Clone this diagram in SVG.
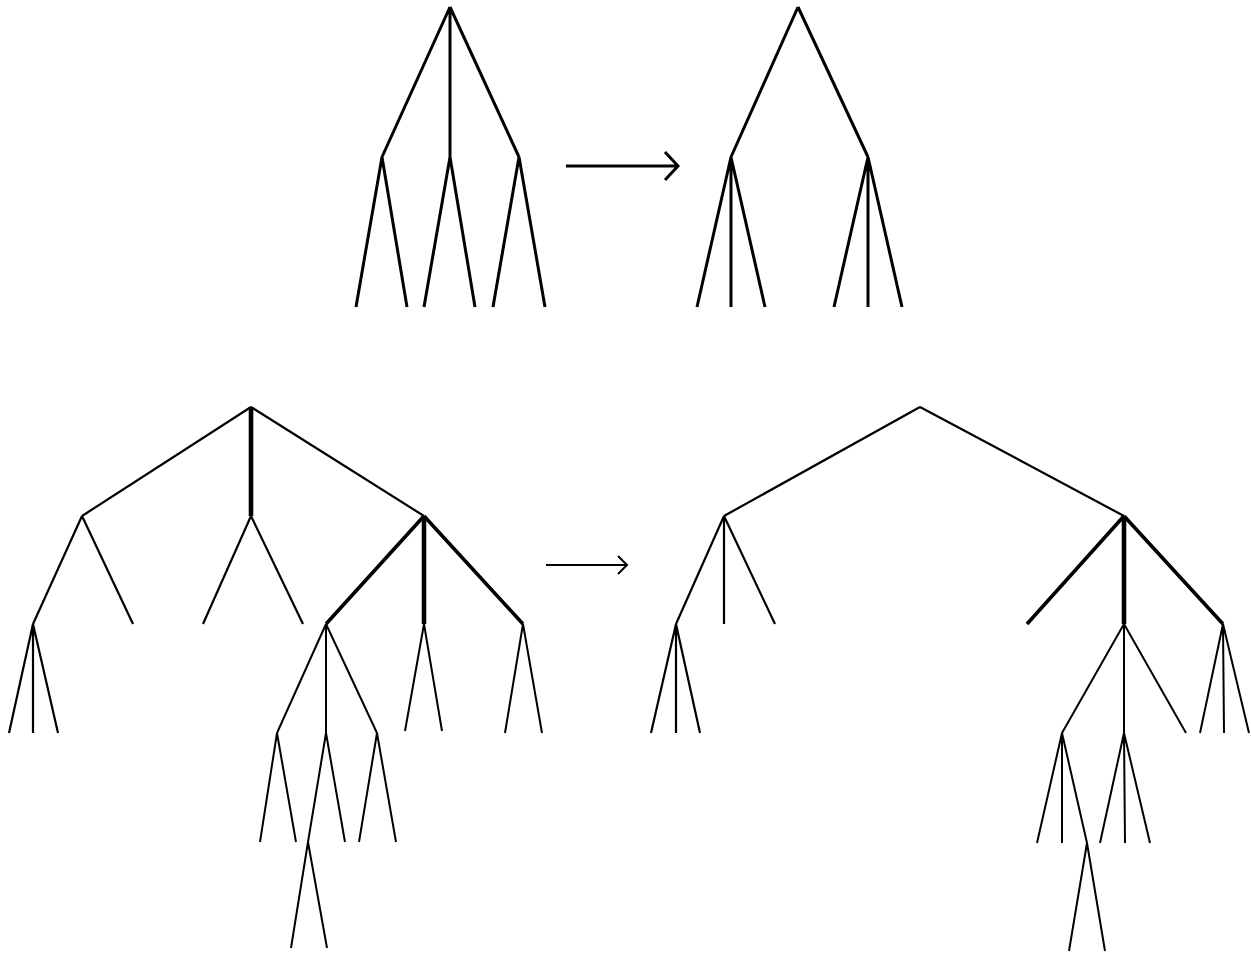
<svg xmlns="http://www.w3.org/2000/svg" width="1251" height="953" viewBox="0 0 1251 953">
<style>
.e{stroke:#000;fill:none;stroke-linecap:butt}
.t{stroke-width:3}
.b{stroke-width:2.2}
.k{stroke-width:3.6}
.kk{stroke-width:4.6}
.n{stroke-width:2}
</style>
<rect width="1251" height="953" fill="#fff"/>
<g id="tree1">
<path class="e t" d="M450,7L382,157M450,7L450,157M450,7L519,157M382,157L356,307M382,157L407,307M450,157L424,307M450,157L475,307M519,157L493,307M519,157L545,307"/>
</g>
<g id="tree2">
<path class="e t" d="M798,7L731,157M798,7L868,157M731,157L697,307M731,157L731,307M731,157L765,307M868,157L834,307M868,157L868,307M868,157L902,307"/>
</g>
<g id="tree3">
<path class="e b" d="M251,407L82,516M251,407L424,516M82,516L33,624M82,516L133,624M251,516L203,624M251,516L303,624M33,624L9,733M33,624L33,733M33,624L58,733"/>
<path class="e kk" d="M251,407L251,516"/>
<path class="e k" d="M424,516L326,624M424,516L523,624"/>
<path class="e kk" d="M424,516L424,624"/>
<path class="e n" d="M326,624L277,733M326,624L326,733M326,624L377,733M277,733L260,842M277,733L296,842M326,733L308,842M326,733L345,842M377,733L359,842M377,733L396,842M308,842L291,948M308,842L327,948M424,624L405,731M424,624L442,731M523,624L505,733M523,624L542,733"/>
</g>
<g id="tree4">
<path class="e b" d="M920,407L724,516M920,407L1124,516M724,516L676,624M724,516L724,624M724,516L775,624M676,624L651,733M676,624L676,733M676,624L700,733"/>
<path class="e k" d="M1124,516L1027,624M1124,516L1223,624"/>
<path class="e kk" d="M1124,516L1124,624"/>
<path class="e n" d="M1124,624L1062,733M1124,624L1124,733M1124,624L1186,733M1062,733L1037,843M1062,733L1062,843M1062,733L1087,843M1124,733L1100,843M1124,733L1125,843M1124,733L1150,843M1087,843L1069,951M1087,843L1105,951M1223,624L1200,733M1223,624L1224,733M1223,624L1249,733"/>
</g>
<g id="connectors">
<path class="e t" d="M566,166L678,166M665,152L678,166L665,180"/>
<path class="e n" d="M546,565L627,565M618,556L627,565L618,574"/>
</g>
</svg>
